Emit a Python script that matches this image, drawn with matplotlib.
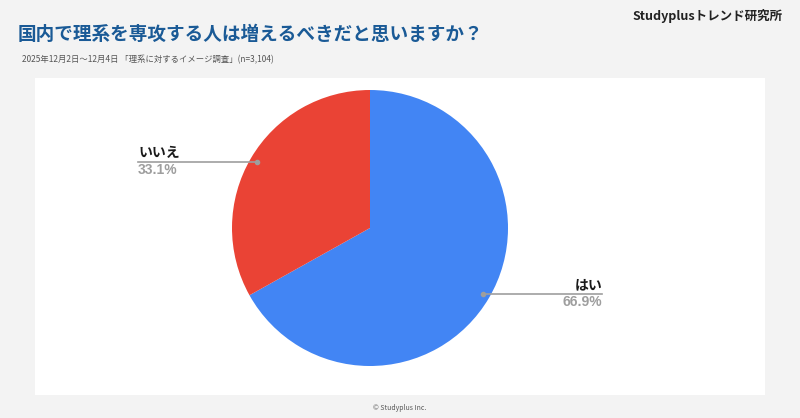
import numpy as np
import matplotlib.pyplot as plt

plt.rcParams['font.family'] = ['Noto Sans CJK JP', 'DejaVu Sans']

# data
labels = ['はい', 'いいえ']
values = [66.9, 33.1]
colors = ['#4285f4', '#ea4335']

title = '国内で理系を専攻する人は増えるべきだと思いますか？'
subtitle = '2025年12月2日～12月4日 「理系に対するイメージ調査」(n=3,104)'
brand = 'Studyplusトレンド研究所'
footer = '© Studyplus Inc.'

W, H = 800, 418
fig = plt.figure(figsize=(W / 100, H / 100), dpi=100)
fig.patch.set_facecolor('#f3f3f3')
ax = fig.add_axes([0, 0, 1, 1])

# white panel
ax.add_patch(plt.Rectangle((35, H - 395), 730, 317, facecolor='white', edgecolor='none', zorder=0))

cx, cy, r = 370, H - 228, 138
wedges, _ = ax.pie(values, colors=colors, startangle=90, counterclock=False,
                   center=(cx, cy), radius=r, wedgeprops=dict(linewidth=0))

# labels with leader lines
for w, lab, val in zip(wedges, labels, values):
    mid = np.deg2rad((w.theta1 + w.theta2) / 2)
    px = cx + 0.95 * r * np.cos(mid)
    py = cy + 0.95 * r * np.sin(mid)
    if np.cos(mid) >= 0:
        tx, ha = 602, 'right'
    else:
        tx, ha = 138, 'left'
    ax.plot([px, tx], [py, py], color='#9e9e9e', lw=1.2, zorder=3)
    ax.plot(px, py, 'o', color='#9e9e9e', ms=3, zorder=4)
    ax.text(tx, py + 2, lab, ha=ha, va='bottom', fontsize=10, fontweight='bold', color='#1a1a1a')
    ax.text(tx, py - 1, f'{val}%', ha=ha, va='top', fontsize=10, fontweight='bold', color='#9e9e9e',
            family=['Liberation Sans', 'DejaVu Sans'])

ax.set_xlim(0, W)
ax.set_ylim(0, H)
ax.set_aspect('auto')
ax.axis('off')

fig.text(18 / W, 1 - 34 / H, title, ha='left', va='center', fontsize=13.4, fontweight='bold', color='#1a5a96')
fig.text(22 / W, 1 - 60 / H, subtitle, ha='left', va='center', fontsize=6, color='#555555')
fig.text(783 / W, 1 - 16 / H, brand, ha='right', va='center', fontsize=9, fontweight='bold', color='#222222')
fig.text(0.5, 1 - 408 / H, footer, ha='center', va='center', fontsize=5, color='#555555')

fig.savefig('out.png', dpi=100, facecolor=fig.get_facecolor())
